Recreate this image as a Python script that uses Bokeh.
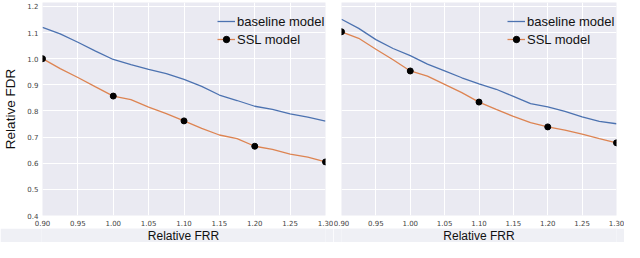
from bokeh.plotting import figure
from bokeh.models import Range1d, FixedTicker, NumeralTickFormatter, Legend, LegendItem, Label
from bokeh.layouts import column, row
from bokeh.embed import file_html
from bokeh.resources import INLINE

# ---- data ----
frr = [0.900, 0.925, 0.950, 0.975, 1.000, 1.025, 1.050, 1.075, 1.100,
       1.125, 1.150, 1.175, 1.200, 1.225, 1.250, 1.275, 1.300]
left_baseline = [1.120, 1.095, 1.063, 1.029, 0.997, 0.977, 0.959, 0.943, 0.921,
                 0.894, 0.861, 0.840, 0.818, 0.806, 0.789, 0.776, 0.761]
left_ssl = [1.000, 0.962, 0.928, 0.892, 0.857, 0.843, 0.815, 0.790, 0.762,
            0.733, 0.708, 0.694, 0.665, 0.653, 0.635, 0.623, 0.605]
right_baseline = [1.151, 1.116, 1.073, 1.039, 1.012, 0.979, 0.953, 0.927, 0.904,
                  0.883, 0.856, 0.828, 0.816, 0.798, 0.777, 0.760, 0.751]
right_ssl = [1.103, 1.078, 1.036, 0.996, 0.953, 0.933, 0.902, 0.870, 0.834,
             0.806, 0.779, 0.755, 0.739, 0.727, 0.711, 0.694, 0.678]
marker_frr = [0.90, 1.00, 1.10, 1.20, 1.30]
left_ssl_markers = [1.000, 0.857, 0.762, 0.665, 0.605]
right_ssl_markers = [1.103, 0.953, 0.834, 0.739, 0.678]

x_ticks = [0.90, 0.95, 1.00, 1.05, 1.10, 1.15, 1.20, 1.25, 1.30]
y_ticks = [0.4, 0.5, 0.6, 0.7, 0.8, 0.9, 1.0, 1.1, 1.2]
x_label = "Relative FRR"
y_label = "Relative FDR"
series_names = ["baseline model", "SSL model"]

BLUE = "#4c72b0"
ORANGE = "#dd8452"
BG = "#eaeaf2"
STRIP = "#eff0f5"

yr = Range1d(0.4, 1.215)
FH = 214


def make_panel(base, ssl, mk, show_y, width, mbl, mbr, leg_x):
    p = figure(width=width, height=228, x_range=Range1d(0.9, 1.3), y_range=yr,
               output_backend="svg", toolbar_location=None,
               min_border_left=mbl, min_border_right=mbr,
               min_border_top=2, min_border_bottom=12,
               background_fill_color=BG, border_fill_color="white",
               outline_line_color=None,
               y_axis_location="left" if show_y else None)
    xt = FixedTicker(ticks=x_ticks)
    yt = FixedTicker(ticks=y_ticks)
    p.xaxis.ticker = xt
    p.xaxis.formatter = NumeralTickFormatter(format="0.00")
    p.xgrid.ticker = xt
    p.ygrid.ticker = yt
    axes = list(p.xaxis)
    if show_y:
        p.yaxis.ticker = yt
        p.yaxis.formatter = NumeralTickFormatter(format="0.0")
        p.yaxis.axis_label = y_label
        p.yaxis.axis_label_text_font = "Liberation Sans"
        p.yaxis.axis_label_text_font_size = "13.5px"
        p.yaxis.axis_label_text_font_style = "normal"
        p.yaxis.axis_label_text_color = "#111111"
        p.yaxis.axis_label_standoff = 6
        axes += list(p.yaxis)
    for ax in axes:
        ax.axis_line_color = None
        ax.major_tick_line_color = None
        ax.minor_tick_line_color = None
        ax.major_tick_out = 0
        ax.major_tick_in = 0
        ax.minor_tick_out = 0
        ax.minor_tick_in = 0
        ax.major_label_text_font = "DejaVu Sans"
        ax.major_label_text_font_size = "7px"
        ax.major_label_text_color = "#444444"
        ax.major_label_standoff = 4
    p.xgrid.grid_line_color = "white"
    p.ygrid.grid_line_color = "white"
    p.xgrid.grid_line_width = 1
    p.ygrid.grid_line_width = 1

    b = p.line(frr, base, line_color=BLUE, line_width=1.3)
    s = p.line(frr, ssl, line_color=ORANGE, line_width=1.3)
    m = p.scatter(marker_frr, mk, size=6, fill_color="black", line_color="black")

    legend = Legend(items=[LegendItem(label=series_names[0], renderers=[b]),
                           LegendItem(label=series_names[1], renderers=[s, m])],
                    location=(leg_x, FH - 12 - 34))
    legend.background_fill_alpha = 0
    legend.border_line_color = None
    legend.label_text_font = "Liberation Sans"
    legend.label_text_font_size = "13px"
    legend.label_text_color = "#111111"
    legend.glyph_width = 18
    legend.glyph_height = 16
    legend.label_height = 16
    legend.label_standoff = 2
    legend.spacing = 2
    legend.padding = 0
    legend.margin = 0
    p.add_layout(legend)
    return p


def make_label(width, mbl, mbr):
    q = figure(width=width, height=14, x_range=Range1d(0.9, 1.3), y_range=Range1d(0, 1),
               output_backend="svg", toolbar_location=None,
               min_border_left=mbl, min_border_right=mbr,
               min_border_top=0, min_border_bottom=0,
               x_axis_location=None, y_axis_location=None,
               background_fill_color=STRIP, border_fill_color=STRIP,
               outline_line_color=None)
    q.grid.visible = False
    q.add_layout(Label(x=1.1, y=0.5, text=x_label, text_align="center",
                       text_baseline="middle", text_font="Liberation Sans",
                       text_font_size="12px", text_color="#111111"))
    return q


left = make_panel(left_baseline, left_ssl, left_ssl_markers, True, 333, 41, 8, 284 - 109)
right = make_panel(right_baseline, right_ssl, right_ssl_markers, False, 291, 8, 8, 275 - 109)
lab_l = make_label(333, 41, 8)
lab_r = make_label(291, 8, 8)

layout = column(row(left, right, spacing=0), row(lab_l, lab_r, spacing=0), spacing=0)

open("out.html", "w").write(file_html(layout, INLINE))
